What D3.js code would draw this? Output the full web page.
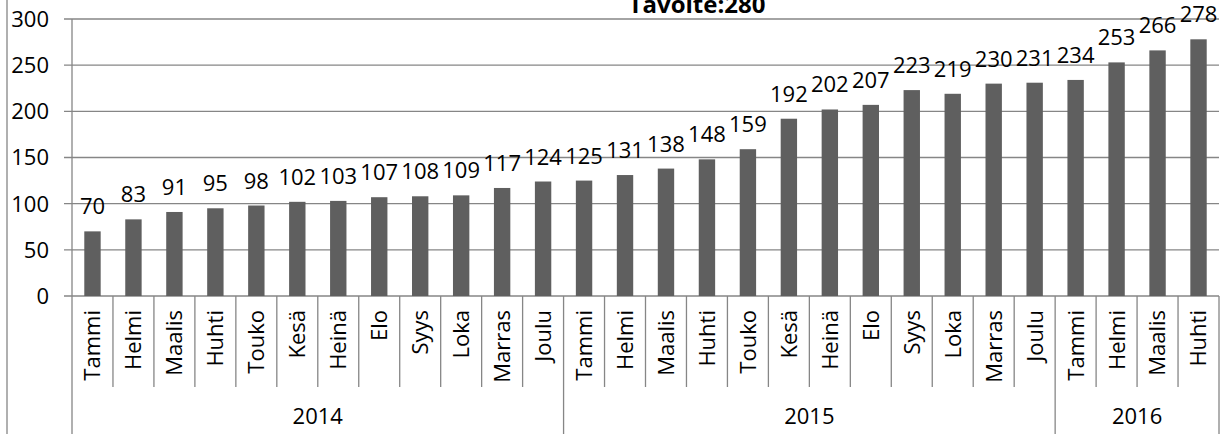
<!DOCTYPE html>
<meta charset="utf-8">
<style>
body { margin: 0; background: #fff; }
svg text { font-family: "Open Sans", sans-serif; fill: #000; }
.grid line { stroke: #868686; stroke-width: 1.3px; }
.frame { stroke: #868686; stroke-width: 1.3px; fill: none; }
</style>
<body>
<script src="https://d3js.org/d3.v7.min.js"></script>
<script>

// data
var months = ["Tammi", "Helmi", "Maalis", "Huhti", "Touko", "Kesä", "Heinä", "Elo", "Syys", "Loka", "Marras", "Joulu",
              "Tammi", "Helmi", "Maalis", "Huhti", "Touko", "Kesä", "Heinä", "Elo", "Syys", "Loka", "Marras", "Joulu",
              "Tammi", "Helmi", "Maalis", "Huhti"];
var years = ["2014", "2015", "2016"];
var yearCounts = [12, 12, 4];
var values = [70, 83, 91, 95, 98, 102, 103, 107, 108, 109, 117, 124,
              125, 131, 138, 148, 159, 192, 202, 207, 223, 219, 230, 231,
              234, 253, 266, 278];
var yTicks = [0, 50, 100, 150, 200, 250, 300];
var title = "Tavoite:280";

var W = 1230, H = 434;
var plot = {left: 72, right: 1219, top: 19, bottom: 296};
var fs = "22px";

var svg = d3.select("body").append("svg")
    .attr("width", W)
    .attr("height", H);

var idx = d3.range(values.length);

var x = d3.scaleBand()
    .domain(idx)
    .range([plot.left, plot.right])
    .paddingInner(0.6)
    .paddingOuter(0.3);

var xEdge = d3.scaleLinear()
    .domain([0, values.length])
    .range([plot.left, plot.right]);

var y = d3.scaleLinear()
    .domain([0, 300])
    .range([plot.bottom, plot.top]);

// outer border of the chart area
svg.append("line").attr("class", "frame")
    .attr("x1", 7).attr("x2", 7).attr("y1", 0).attr("y2", H);

// gridlines
svg.append("g").attr("class", "grid")
  .selectAll("line").data(yTicks).enter().append("line")
    .attr("x1", plot.left - 8).attr("x2", plot.right)
    .attr("y1", d => y(d)).attr("y2", d => y(d));

// y labels
svg.append("g").selectAll("text").data(yTicks).enter().append("text")
    .attr("x", plot.left - 23)
    .attr("y", d => y(d))
    .attr("dy", "0.36em")
    .attr("text-anchor", "end")
    .style("font-size", fs)
    .text(d => d);

// bars
svg.append("g").selectAll("rect").data(values).enter().append("rect")
    .attr("x", (d, i) => x(i))
    .attr("width", x.bandwidth())
    .attr("y", d => y(d))
    .attr("height", d => y(0) - y(d))
    .attr("fill", "#5f5f5f");

// value labels
svg.append("g").selectAll("text").data(values).enter().append("text")
    .attr("x", (d, i) => x(i) + x.bandwidth() / 2)
    .attr("y", d => y(d) - 17)
    .attr("text-anchor", "middle")
    .style("font-size", fs)
    .text(d => d);

// axes lines
var frame = svg.append("g").attr("class", "grid");
frame.append("line")
    .attr("x1", plot.left).attr("x2", plot.left).attr("y1", plot.top).attr("y2", H);

// category separators
var yearEdges = [0];
yearCounts.forEach(c => yearEdges.push(yearEdges[yearEdges.length - 1] + c));

frame.selectAll(".sep").data(d3.range(1, values.length + 1)).enter().append("line")
    .attr("class", "sep")
    .attr("x1", d => xEdge(d)).attr("x2", d => xEdge(d))
    .attr("y1", plot.bottom)
    .attr("y2", d => yearEdges.indexOf(d) >= 0 ? H : 387);

// month labels
svg.append("g").selectAll("text").data(months).enter().append("text")
    .attr("transform", (d, i) => "translate(" + (x(i) + x.bandwidth() / 2) + ",310) rotate(-90)")
    .attr("dy", "0.36em")
    .attr("text-anchor", "end")
    .style("font-size", fs)
    .text(d => d);

// year labels
svg.append("g").selectAll("text").data(years).enter().append("text")
    .attr("x", (d, i) => (xEdge(yearEdges[i]) + xEdge(yearEdges[i + 1])) / 2)
    .attr("y", 424)
    .attr("text-anchor", "middle")
    .style("font-size", fs)
    .text(d => d);

// title (cut off at the top in the original)
svg.append("text")
    .attr("x", 697)
    .attr("y", 13)
    .attr("text-anchor", "middle")
    .style("font-size", "24px")
    .style("font-weight", "bold")
    .text(title);

</script>
</body>
